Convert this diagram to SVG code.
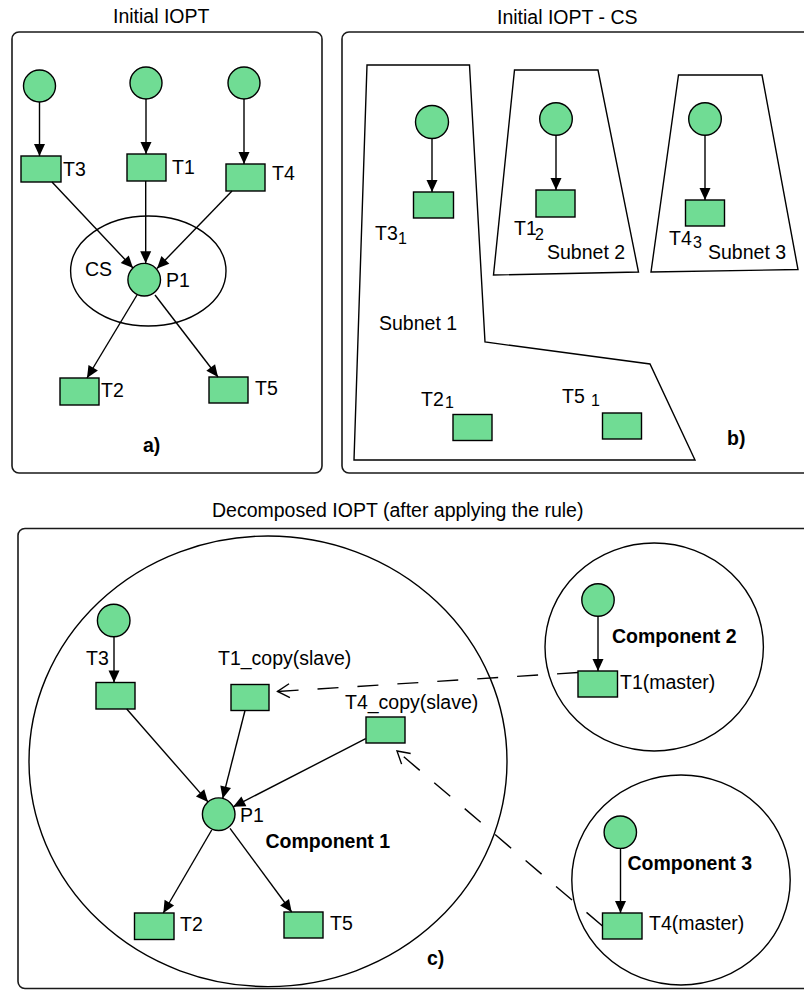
<svg xmlns="http://www.w3.org/2000/svg" width="804" height="990" viewBox="0 0 804 990">
  <style>
    text { font-family: "Liberation Sans", Arial, sans-serif; font-size: 19.5px; fill: #000; }
    .b { font-weight: bold; }
    .sub { font-size: 16px; }
    .frame { fill: none; stroke: #1a1a1a; stroke-width: 1.6; }
    .outline { fill: none; stroke: #000; stroke-width: 1.4; }
    .place { fill: #70dc94; stroke: #000; stroke-width: 1.4; }
    .trans { fill: #70dc94; stroke: #000; stroke-width: 1.4; }
    .arc { stroke: #000; stroke-width: 1.4; fill: none; marker-end: url(#arr); }
    .link { stroke: #000; stroke-width: 1.4; fill: none; stroke-dasharray: 21 19; marker-end: url(#open); }
  </style>
  <defs>
    <marker id="arr" markerUnits="userSpaceOnUse" markerWidth="12" markerHeight="11" refX="12" refY="5.5" orient="auto" overflow="visible">
      <path d="M0,0 L12,5.5 L0,11 z" fill="#000"/>
    </marker>
    <marker id="open" markerUnits="userSpaceOnUse" markerWidth="14" markerHeight="16" refX="12" refY="8" orient="auto" overflow="visible">
      <path d="M0,1 L12,8 L0,15" fill="none" stroke="#000" stroke-width="1.4"/>
    </marker>
  </defs>

  <!-- Panel frames and titles -->
  <g id="panel-a">
    <text x="113" y="23">Initial IOPT</text>
    <rect class="frame" x="12" y="32" width="310" height="441" rx="7"/>
    <text class="b" x="143" y="452">a)</text>
  </g>
  <g id="panel-b">
    <text x="497" y="24">Initial IOPT - CS</text>
    <rect class="frame" x="342" y="32" width="520" height="441" rx="7"/>
    <text class="b" x="727" y="445">b)</text>
  </g>
  <g id="panel-c">
    <text x="212" y="517">Decomposed IOPT (after applying the rule)</text>
    <rect class="frame" x="18" y="528.5" width="860" height="460" rx="7"/>
    <text class="b" x="427" y="965">c)</text>
  </g>

  <!-- a) initial net -->
  <g id="a-cs">
    <ellipse class="outline" cx="148.3" cy="271" rx="77.7" ry="55"/>
    <text x="85" y="276">CS</text>
  </g>
  <g id="a-p-t3"><circle class="place" cx="39.5" cy="86" r="16"/></g>
  <g id="a-p-t1"><circle class="place" cx="146" cy="83" r="16"/></g>
  <g id="a-p-t4"><circle class="place" cx="244" cy="83" r="16"/></g>
  <g id="a-t3"><rect class="trans" x="21" y="156" width="40" height="26"/><text x="63" y="176">T3</text></g>
  <g id="a-t1"><rect class="trans" x="127" y="154" width="39" height="27"/><text x="172" y="174">T1</text></g>
  <g id="a-t4"><rect class="trans" x="226" y="164" width="39" height="27"/><text x="272" y="180">T4</text></g>
  <g id="a-p1"><circle class="place" cx="144.2" cy="279.7" r="16.3"/><text x="166" y="287">P1</text></g>
  <g id="a-t2"><rect class="trans" x="60" y="378" width="39" height="27"/><text x="101" y="397">T2</text></g>
  <g id="a-t5"><rect class="trans" x="209" y="377" width="39" height="26"/><text x="255" y="395">T5</text></g>

  <!-- b) subnets after the cutting set -->
  <g id="b-subnet1">
    <polygon class="outline" points="367,65 469.5,65 485,342 650,364 695,460 354,460"/>
    <text x="379" y="330">Subnet 1</text>
  </g>
  <g id="b-subnet2">
    <polygon class="outline" points="514.5,70 598,70 638.5,272 493.5,275"/>
    <text x="547" y="259">Subnet 2</text>
  </g>
  <g id="b-subnet3">
    <polygon class="outline" points="678.5,75 762,75 798,269.5 651,272"/>
    <text x="708" y="259">Subnet 3</text>
  </g>
  <g id="b-p-t3"><circle class="place" cx="432" cy="122" r="16.5"/></g>
  <g id="b-p-t1"><circle class="place" cx="556" cy="119" r="16.3"/></g>
  <g id="b-p-t4"><circle class="place" cx="705" cy="119" r="16.3"/></g>
  <g id="b-t3"><rect class="trans" x="413.5" y="192" width="40" height="26"/><text x="375" y="240">T3</text><text class="sub" x="398" y="244">1</text></g>
  <g id="b-t1"><rect class="trans" x="536" y="190" width="39" height="27"/><text x="514" y="235">T1</text><text class="sub" x="535" y="240">2</text></g>
  <g id="b-t4"><rect class="trans" x="685.5" y="200" width="39" height="26"/><text x="669" y="245">T4</text><text class="sub" x="693" y="248">3</text></g>
  <g id="b-t2"><rect class="trans" x="453" y="414.5" width="39" height="26"/><text x="421" y="406">T2</text><text class="sub" x="445" y="408">1</text></g>
  <g id="b-t5"><rect class="trans" x="602.5" y="413" width="39" height="26"/><text x="562" y="403">T5</text><text class="sub" x="591" y="406">1</text></g>

  <!-- c) decomposed components -->
  <g id="component1">
    <ellipse class="outline" cx="268" cy="761.3" rx="239" ry="225.3"/>
    <text class="b" x="265.5" y="847.5">Component 1</text>
  </g>
  <g id="component2">
    <ellipse class="outline" cx="654.2" cy="647" rx="109.2" ry="104"/>
    <text class="b" x="612" y="643">Component 2</text>
  </g>
  <g id="component3">
    <ellipse class="outline" cx="681" cy="880" rx="109.2" ry="105"/>
    <text class="b" x="627.5" y="870">Component 3</text>
  </g>
  <g id="c-p-t3"><circle class="place" cx="113.7" cy="620.5" r="16.3"/></g>
  <g id="c-t3"><rect class="trans" x="96" y="682.5" width="39" height="26.5"/><text x="86" y="665">T3</text></g>
  <g id="c-t1-copy"><rect class="trans" x="231" y="684.5" width="38" height="26"/><text x="218" y="665">T1_copy(slave)</text></g>
  <g id="c-t4-copy"><rect class="trans" x="366" y="717" width="39" height="26"/><text x="345" y="708.5">T4_copy(slave)</text></g>
  <g id="c-p1"><circle class="place" cx="218.7" cy="814.2" r="16.3"/><text x="240" y="822">P1</text></g>
  <g id="c-t2"><rect class="trans" x="134.5" y="913" width="39.5" height="26.5"/><text x="180" y="931">T2</text></g>
  <g id="c-t5"><rect class="trans" x="284" y="912" width="39" height="26"/><text x="330" y="930">T5</text></g>
  <g id="c-p-t1"><circle class="place" cx="598" cy="600" r="16.2"/></g>
  <g id="c-t1-master"><rect class="trans" x="578" y="671" width="39.5" height="26"/><text x="620" y="688.5">T1(master)</text></g>
  <g id="c-p-t4"><circle class="place" cx="620.3" cy="832.2" r="16.2"/></g>
  <g id="c-t4-master"><rect class="trans" x="602.5" y="913" width="39.5" height="26"/><text x="649" y="929.5">T4(master)</text></g>

  <!-- Arcs and master/slave links -->
  <g id="connectors">
    <!-- a) -->
    <line class="arc" x1="39.5" y1="102" x2="39.5" y2="156"/>
    <line class="arc" x1="146" y1="99" x2="146" y2="154"/>
    <line class="arc" x1="244" y1="99" x2="244" y2="164"/>
    <line class="arc" x1="52" y1="182" x2="133" y2="268"/>
    <line class="arc" x1="145.7" y1="181" x2="145.7" y2="263.3"/>
    <line class="arc" x1="232" y1="191" x2="157" y2="268.5"/>
    <line class="arc" x1="137" y1="295" x2="87" y2="378"/>
    <line class="arc" x1="155" y1="295" x2="218" y2="377"/>
    <!-- b) -->
    <line class="arc" x1="432" y1="138.5" x2="432" y2="192"/>
    <line class="arc" x1="556" y1="135.3" x2="556" y2="190"/>
    <line class="arc" x1="705" y1="135.3" x2="705" y2="200"/>
    <!-- c) -->
    <line class="arc" x1="114" y1="637" x2="114" y2="682.5"/>
    <line class="arc" x1="126.7" y1="709" x2="208" y2="801.9"/>
    <line class="arc" x1="245" y1="710.5" x2="222.7" y2="798.4"/>
    <line class="arc" x1="365.7" y1="738.7" x2="233.2" y2="806.8"/>
    <line class="arc" x1="211.7" y1="830" x2="163.3" y2="913"/>
    <line class="arc" x1="230" y1="828.3" x2="291.7" y2="912"/>
    <line class="arc" x1="598" y1="616.2" x2="598" y2="671"/>
    <line class="arc" x1="620.5" y1="848.4" x2="620.5" y2="913"/>
    <line class="link" x1="578" y1="672.5" x2="277.5" y2="691.5"/>
    <line class="link" x1="602.5" y1="926" x2="397" y2="751"/>
  </g>
</svg>
